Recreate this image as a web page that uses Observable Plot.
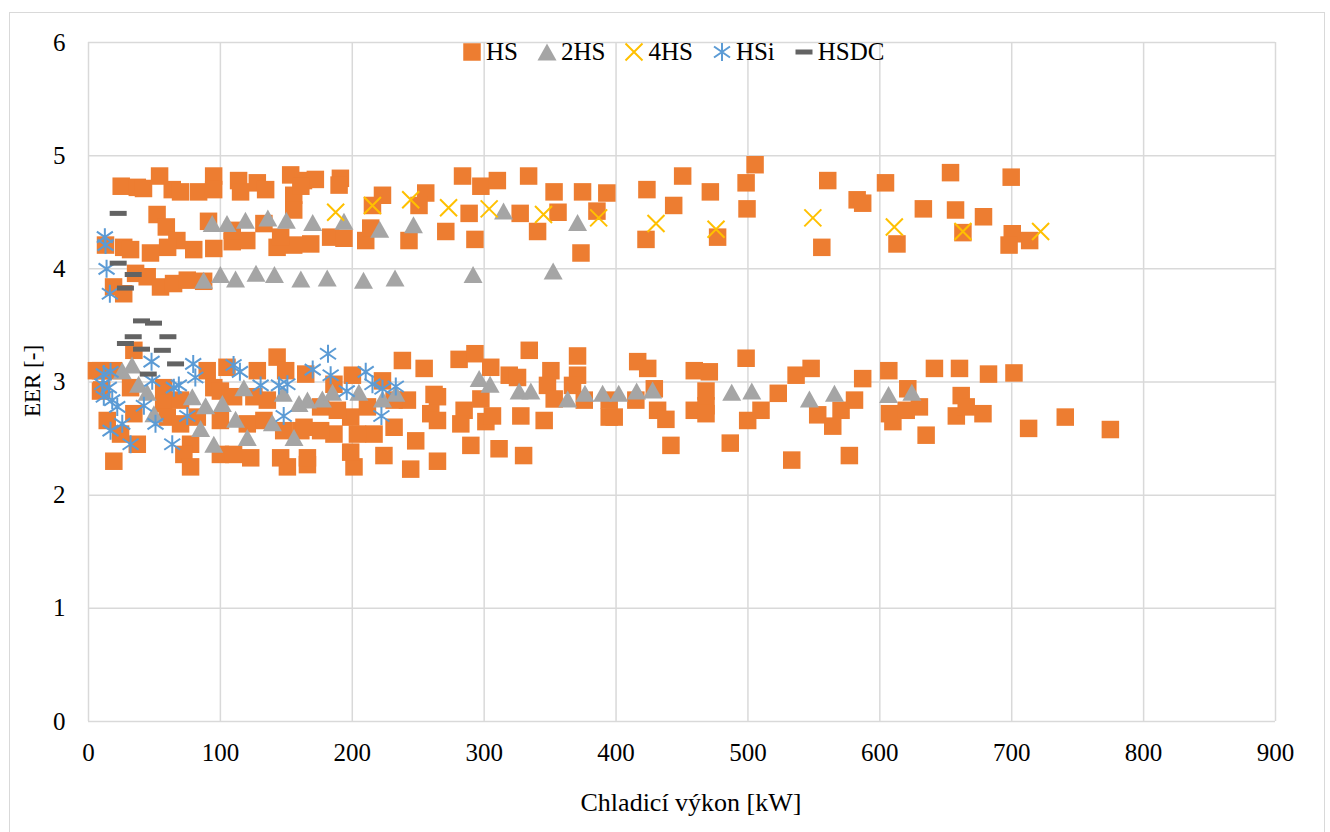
<!DOCTYPE html>
<html>
<head>
<meta charset="utf-8">
<script src="https://cdn.jsdelivr.net/npm/d3@7"></script>
<script src="https://cdn.jsdelivr.net/npm/@observablehq/plot@0.6"></script>
<style>
  body { margin: 0; background: #fff; }
  #wrap { position: relative; width: 1330px; height: 832px; overflow: hidden; font-family: "Liberation Serif", "Times New Roman", serif; color: #000; }
  #border { position: absolute; left: 9px; top: 12px; width: 1316px; height: 840px; box-sizing: border-box; border: 1.5px solid #d9d9d9; pointer-events: none; }
  #chart { position: absolute; left: 0; top: 0; }
  #chart svg text { font-family: "Liberation Serif", "Times New Roman", serif !important; }
  .title { position: absolute; white-space: nowrap; line-height: 1; font-family: "Liberation Serif", "Times New Roman", serif; }
  #xtitle { left: 691px; top: 790px; font-size: 26px; transform: translateX(-50%); }
  #ytitle { left: 32px; top: 381px; font-size: 23px; transform: translate(-50%, -50%) rotate(-90deg); }
  #legend { position: absolute; left: 462px; top: 39px; display: flex; align-items: center; font-size: 25px; line-height: 26px; font-family: "Liberation Serif", "Times New Roman", serif; }
  .item { display: flex; align-items: center; margin-right: 19px; }
  .item svg { margin-right: 4px; }
</style>
</head>
<body>
<div id="wrap">
  <div id="chart"></div>
  <div id="legend"></div>
  <div class="title" id="xtitle">Chladicí výkon [kW]</div>
  <div class="title" id="ytitle">EER [-]</div>
  <div id="border"></div>
</div>
<script>
// ---- tick labels ----
const xTicks = [0, 100, 200, 300, 400, 500, 600, 700, 800, 900];
const yTicks = [0, 1, 2, 3, 4, 5, 6];

// ---- series names ----
const seriesNames = ["HS", "2HS", "4HS", "HSi", "HSDC"];
const seriesColors = ["#ED7D31", "#A5A5A5", "#FFC000", "#5B9BD5", "#636363"];

// ---- HS: [cooling power kW, EER] ----
const hsData = [
  [24.8,4.73],[37,4.72],[41.7,4.71],[53.9,4.82],[63.5,4.70],[69.8,4.68],[83.5,4.68],[94.9,4.82],[94.9,4.70],[113.8,4.78],[115.3,4.68],[128,4.76],[134.3,4.70],[153.3,4.83],[155.6,4.65],[163,4.78],
  [172,4.79],[191,4.80],[190,4.74],[161,4.73],[222.9,4.65],[255.7,4.67],[283.6,4.82],[297.5,4.73],[310,4.78],[333.7,4.82],[353,4.68],[374.6,4.68],[393,4.67],[423.4,4.70],[450.5,4.82],
  [471.5,4.68],[505.4,4.92],[498.6,4.76],[560.5,4.78],[604.3,4.76],[653.6,4.85],[699.6,4.81],
  [52,4.48],[59,4.37],[91,4.42],[67,4.25],[60,4.19],[47,4.14],[26.7,4.19],[31.9,4.17],[79.8,4.17],[95,4.18],[109,4.24],[120,4.25],[143,4.19],[155.6,4.21],[109,4.34],[133,4.40],[155.6,4.52],[145.7,4.28],[12.9,4.21],
  [215.3,4.56],[250.6,4.56],[288.6,4.49],[327.3,4.49],[356,4.50],[385.5,4.51],[443.7,4.56],[422.7,4.26],[340.5,4.33],[373.4,4.14],[293,4.26],[270.9,4.33],[243,4.25],[210.2,4.25],[183.6,4.28],[168.5,4.22],[193.7,4.27],[214,4.36],
  [499.3,4.53],[477,4.28],[582.8,4.61],[587,4.58],[556,4.19],[633,4.53],[613,4.22],[657.4,4.52],[678.6,4.46],[663,4.32],[700.4,4.31],[698,4.21],[713.6,4.25],
  [19,3.84],[26.7,3.78],[35.7,3.96],[44.5,3.93],[54.6,3.84],[64.5,3.87],[74.9,3.90],[87.3,3.89],
  [34.4,3.28],[143,3.22],[6,3.10],[9.1,3.10],[19,3.10],[105,3.13],[128,3.10],[90,3.10],[149.5,3.10],[10,2.93],[9.1,2.92],[31.9,2.95],[57,2.95],[95,2.95],[57,2.81],[69.8,2.84],[100,2.92],[110,2.87],[125.4,2.87],[135.6,2.84],
  [14.2,2.66],[34.4,2.72],[59.7,2.69],[69.8,2.63],[82.5,2.69],[100,2.66],[120.4,2.63],[133,2.66],[148,2.57],[161,2.57],[24.3,2.54],[37,2.45],[77.4,2.45],[72.3,2.36],[100,2.36],[110,2.36],[123,2.33],[145.7,2.33],[166,2.27],[19.2,2.30],[77.4,2.25],[150.8,2.25],
  [238,3.19],[254.5,3.12],[281,3.20],[293,3.25],[305,3.13],[334.2,3.28],[350.6,3.10],[370.8,3.23],[370.8,3.06],[416.4,3.18],[424,3.12],[459.3,3.10],[319,3.06],[325.3,3.04],[262,2.89],[264.6,2.87],[284.8,2.75],[282.3,2.63],[297.5,2.85],[301.3,2.65],[306.3,2.70],[259.5,2.72],[264.6,2.66],[327.8,2.70],[345.5,2.66],[348,2.97],[353.1,2.85],[367,2.97],[375.9,2.84],[394.8,2.84],[394.8,2.69],[398.6,2.69],[415,2.84],[429,2.94],[431.5,2.75],[437.8,2.67],[459.3,2.75],[441.6,2.44],[289.9,2.44],[311.3,2.41],[329.9,2.35],[264.6,2.30],[244.3,2.23],[248.1,2.48],[224,2.35],[201.3,2.25],[198.8,2.38],[231.7,2.60],[216.5,2.54],[203.9,2.54],[186.1,2.54],[176,2.57],[163.4,2.60],[166,2.33],[198.8,2.69],[211.5,2.78],[241.8,2.84],[222.9,3.01],[200.1,3.06],[186.1,2.98],[231.7,2.84],[164.7,3.07],[176,2.78],[188.7,2.75],
  [470.7,3.09],[498.6,3.21],[468.2,2.92],[468.2,2.79],[468.2,2.72],[499.8,2.66],[509.9,2.75],[523,2.90],[536.5,3.06],[547.9,3.12],[552.9,2.71],[564.3,2.61],[570.6,2.75],[580.8,2.84],[587,3.03],[486.6,2.46],[533.2,2.31],[576.9,2.35],[606.8,3.10],[621.2,2.94],[630,2.78],[607.3,2.72],[609.9,2.65],[620,2.75],[635.1,2.53],[641.4,3.12],[660.4,3.12],[661.7,2.88],[658,2.70],[665.5,2.78],[678.2,2.72],[682.4,3.07],[701.7,3.08],[712.8,2.59],[740.6,2.69],[774.8,2.58]
];

// ---- 2HS ----
const hs2Data = [
  [93.8,4.40],[105,4.40],[119,4.43],[136,4.45],[150,4.43],[170,4.41],[193.7,4.42],[220.8,4.35],[246.4,4.39],[314.7,4.51],[370.8,4.41],
  [87.3,3.90],[100,3.95],[111.5,3.91],[127,3.96],[141,3.95],[161,3.91],[181,3.92],[208.5,3.90],[232.4,3.92],[291.6,3.95],[352.3,3.98],
  [25.6,3.10],[33,3.15],[38,2.98],[44.5,2.91],[49.6,2.72],[78.7,2.87],[88.8,2.79],[101.5,2.81],[111.5,2.67],[85,2.59],[95,2.45],[120.4,2.51],[117.8,2.95],[139.4,2.64],[155.8,2.51],[147.7,2.90],[159.6,2.81],[166,2.84],
  [177.3,2.85],[185,2.91],[205,2.91],[222.9,2.85],[233,2.90],[296.2,3.03],[304.5,2.98],[326.5,2.92],[335.4,2.92],[363.3,2.85],[376.4,2.90],[389.8,2.90],[402,2.90],[415.6,2.92],[427.7,2.93],
  [487.7,2.91],[502.9,2.92],[546.6,2.85],[565.6,2.90],[606.6,2.89],[624.3,2.91]
];

// ---- 4HS ----
const hs4Data = [
  [187.4,4.50],[215.3,4.56],[244.3,4.61],[273,4.54],[303.8,4.53],[345,4.48],[386.8,4.45],[430.3,4.40],[475.8,4.35],[549.2,4.45],[611,4.37],[663,4.33],[721.9,4.33]
];

// ---- HSi ----
const hsiData = [
  [12.4,4.28],[12.9,4.21],[13.7,4.00],[16.2,3.78],
  [47.8,3.18],[79.4,3.16],[110,3.15],[114.8,3.09],[81,3.04],[11.6,3.07],[16.7,3.09],[10.4,2.98],[15.4,2.95],[48.3,3.01],[64.7,2.95],[68.5,2.97],[130.5,2.97],[144.4,2.97],[150.8,2.98],[11.6,2.87],[18,2.84],[21.8,2.78],[42,2.79],[74.9,2.70],[25.6,2.63],[50.8,2.63],[148,2.70],[16.7,2.57],[31.9,2.45],[63.5,2.45],
  [181.6,3.25],[170,3.11],[183.6,3.06],[210.2,3.09],[195.8,2.92],[215.3,2.98],[222.9,2.94],[233,2.96],[222.1,2.70]
];

// ---- HSDC ----
const hsdcData = [
  [22.5,4.49],[22.5,4.05],[33.9,3.95],[28,3.83],[40.2,3.54],[49.3,3.52],[33.9,3.40],[60.2,3.40],[28,3.34],[40.2,3.29],[56,3.28],[66,3.16],[45.3,3.07]
];

// ---- marker shapes ----
const symSquare = {draw(c) { c.rect(-8.75, -8.75, 17.5, 17.5); }};
const symTriangle = {draw(c) { c.moveTo(0, -8.5); c.lineTo(9.5, 8.5); c.lineTo(-9.5, 8.5); c.closePath(); }};
const symTimes = {draw(c) { c.moveTo(-8.5, -8.5); c.lineTo(8.5, 8.5); c.moveTo(-8.5, 8.5); c.lineTo(8.5, -8.5); }};
const symStar = {draw(c) { c.moveTo(0, -9); c.lineTo(0, 9); c.moveTo(-8, -5.5); c.lineTo(8, 5.5); c.moveTo(-8, 5.5); c.lineTo(8, -5.5); }};
const symDash = {draw(c) { c.rect(-8.5, -2.5, 17, 5); }};

const grid = {stroke: "#d9d9d9", strokeOpacity: 1, strokeWidth: 1.5};
const px = d => d[0], py = d => d[1];

const chart = Plot.plot({
  width: 1330,
  height: 832,
  marginLeft: 88,
  marginRight: 55,
  marginTop: 42,
  marginBottom: 111,
  style: {fontFamily: "'Liberation Serif', 'Times New Roman', serif", fontSize: "25px", color: "#000", background: "transparent"},
  x: {domain: [0, 900]},
  y: {domain: [0, 6]},
  marks: [
    Plot.gridX(xTicks, grid),
    Plot.gridY(yTicks, grid),
    Plot.axisX(xTicks, {tickSize: 0, tickPadding: 22, label: null, fontSize: 25, tickFormat: d => String(d)}),
    Plot.axisY(yTicks, {tickSize: 0, tickPadding: 23, label: null, fontSize: 25, tickFormat: d => String(d)}),
    Plot.dot(hsData, {x: px, y: py, symbol: symSquare, r: 9, fill: seriesColors[0], stroke: "none"}),
    Plot.dot(hs2Data, {x: px, y: py, symbol: symTriangle, r: 9, fill: seriesColors[1], stroke: "none"}),
    Plot.dot(hs4Data, {x: px, y: py, symbol: symTimes, r: 9, fill: "none", stroke: seriesColors[2], strokeWidth: 2}),
    Plot.dot(hsiData, {x: px, y: py, symbol: symStar, r: 9, fill: "none", stroke: seriesColors[3], strokeWidth: 2}),
    Plot.dot(hsdcData, {x: px, y: py, symbol: symDash, r: 9, fill: seriesColors[4], stroke: "none"})
  ]
});
document.getElementById("chart").appendChild(chart);

// ---- legend ----
const legendShapes = [symSquare, symTriangle, symTimes, symStar, symDash];
const legendFilled = [true, true, false, false, true];
const legend = d3.select("#legend");
seriesNames.forEach((name, i) => {
  const item = legend.append("div").attr("class", "item");
  const svg = item.append("svg").attr("width", 20).attr("height", 20);
  const path = d3.path();
  legendShapes[i].draw(path);
  const p = svg.append("path").attr("transform", "translate(10,10)").attr("d", path.toString());
  if (legendFilled[i]) p.attr("fill", seriesColors[i]);
  else p.attr("fill", "none").attr("stroke", seriesColors[i]).attr("stroke-width", 2);
  item.append("span").text(name);
});
</script>
</body>
</html>
